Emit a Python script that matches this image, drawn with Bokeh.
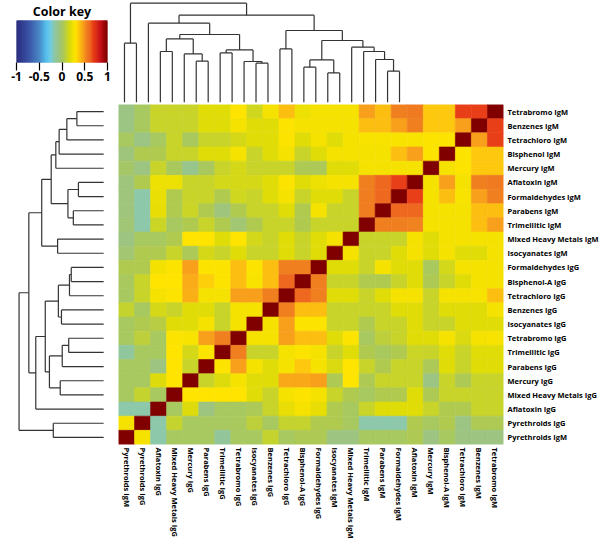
import numpy as np
from bokeh.plotting import figure
from bokeh.models import ColumnDataSource, LinearColorMapper, Range1d, FixedTicker, FactorRange
from bokeh.layouts import row, column
from bokeh.transform import transform
from bokeh.embed import file_html
from bokeh.resources import INLINE

FONT = "Open Sans"

# ---------------- data ----------------
col_labels = ["Pyrethroids IgM", "Pyrethroids IgG", "Aflatoxin IgG", "Mixed Heavy Metals IgG",
              "Mercury IgG", "Parabens IgG", "Trimellitic IgG", "Tetrabromo IgG", "Isocyanates IgG",
              "Benzenes IgG", "Tetrachloro IgG", "Bisphenol-A IgG", "Formaldehydes IgG",
              "Isocyanates IgM", "Mixed Heavy Metals IgM", "Trimellitic IgM", "Parabens IgM",
              "Formaldehydes IgM", "Aflatoxin IgM", "Mercury IgM", "Bisphenol-A IgM",
              "Tetrachloro IgM", "Benzenes IgM", "Tetrabromo IgM"]

# rows listed top to bottom
row_labels = ["Tetrabromo IgM", "Benzenes IgM", "Tetrachloro IgM", "Bisphenol IgM", "Mercury IgM",
              "Aflatoxin IgM", "Formaldehydes IgM", "Parabens IgM", "Trimellitic IgM",
              "Mixed Heavy Metals IgM", "Isocyanates IgM", "Formaldehydes IgG", "Bisphenol-A IgG",
              "Tetrachloro IgG", "Benzenes IgG", "Isocyanates IgG", "Tetrabromo IgG",
              "Trimellitic IgG", "Parabens IgG", "Mercury IgG", "Mixed Heavy Metals IgG",
              "Aflatoxin IgG", "Pyrethroids IgG", "Pyrethroids IgM"]

# correlation values, one list per row (top to bottom), values in column order
row_tetrabromo_igm = [-0.06, 0.02, 0.13, 0.13, 0.13, 0.20, 0.20, 0.31, 0.15, 0.26, 0.40, 0.24, 0.26, 0.26, 0.26, 0.48, 0.40, 0.55, 0.57, 0.38, 0.38, 0.70, 0.70, 1.0]
row_benzenes_igm = [-0.06, 0.03, 0.13, 0.13, 0.13, 0.20, 0.20, 0.26, 0.20, 0.20, 0.30, 0.26, 0.26, 0.26, 0.26, 0.40, 0.40, 0.48, 0.55, 0.38, 0.38, 0.48, 1.0, 0.70]
row_tetrachloro_igm = [0.02, -0.06, 0.02, 0.13, 0.03, 0.13, 0.13, 0.17, 0.20, 0.20, 0.29, 0.20, 0.26, 0.20, 0.26, 0.28, 0.28, 0.28, 0.28, 0.29, 0.29, 1.0, 0.48, 0.70]
row_bisphenol_igm = [-0.04, 0.06, 0.06, 0.13, 0.13, 0.20, 0.20, 0.26, 0.13, 0.20, 0.26, 0.13, 0.20, 0.26, 0.26, 0.26, 0.26, 0.40, 0.48, 0.29, 1.0, 0.29, 0.38, 0.38]
row_mercury_igm = [0.00, -0.05, 0.13, 0.03, -0.08, 0.03, 0.13, 0.17, 0.13, 0.13, 0.13, 0.05, 0.04, 0.20, 0.20, 0.26, 0.26, 0.26, 0.26, 1.0, 0.27, 0.29, 0.38, 0.38]
row_aflatoxin_igm = [-0.04, 0.06, 0.24, 0.24, 0.13, 0.13, 0.16, 0.17, 0.17, 0.20, 0.29, 0.20, 0.24, 0.26, 0.26, 0.55, 0.62, 0.70, 1.0, 0.26, 0.48, 0.26, 0.55, 0.57]
row_formaldehydes_igm = [-0.04, -0.16, 0.23, 0.06, 0.13, 0.13, 0.06, 0.15, 0.13, 0.20, 0.26, 0.13, 0.20, 0.20, 0.13, 0.56, 0.62, 1.0, 0.70, 0.26, 0.40, 0.28, 0.48, 0.55]
row_parabens_igm = [-0.04, -0.16, 0.22, 0.06, 0.14, 0.06, -0.04, 0.06, 0.13, 0.13, 0.20, 0.06, 0.26, 0.13, 0.13, 0.56, 1.0, 0.62, 0.62, 0.26, 0.26, 0.26, 0.40, 0.40]
row_trimellitic_igm = [-0.03, -0.16, 0.14, 0.02, 0.06, 0.13, 0.06, -0.02, 0.06, 0.13, 0.13, 0.06, 0.13, 0.13, 0.13, 1.0, 0.55, 0.55, 0.54, 0.26, 0.26, 0.26, 0.40, 0.48]
row_mixed_metals_igm = [-0.05, 0.02, 0.02, 0.06, 0.31, 0.31, 0.20, 0.31, 0.16, 0.13, 0.20, 0.13, 0.20, 0.26, 1.0, 0.13, 0.13, 0.13, 0.26, 0.20, 0.26, 0.26, 0.26, 0.26]
row_isocyanates_igm = [-0.02, 0.06, 0.06, 0.13, 0.04, 0.17, 0.13, 0.20, 0.13, 0.13, 0.20, 0.13, 0.20, 1.0, 0.26, 0.13, 0.13, 0.20, 0.26, 0.20, 0.26, 0.20, 0.20, 0.26]
row_formaldehydes_igg = [0.06, 0.06, 0.25, 0.29, 0.48, 0.30, 0.30, 0.40, 0.30, 0.40, 0.55, 0.55, 1.0, 0.20, 0.20, 0.13, 0.26, 0.20, 0.20, 0.03, 0.16, 0.26, 0.26, 0.26]
row_bisphenol_a_igg = [0.03, 0.13, 0.31, 0.31, 0.45, 0.36, 0.30, 0.40, 0.28, 0.40, 0.62, 1.0, 0.55, 0.13, 0.13, 0.06, 0.06, 0.13, 0.20, 0.05, 0.13, 0.20, 0.26, 0.26]
row_tetrachloro_igg = [0.02, 0.13, 0.27, 0.29, 0.44, 0.26, 0.26, 0.48, 0.48, 0.55, 1.0, 0.62, 0.55, 0.20, 0.20, 0.13, 0.20, 0.26, 0.26, 0.13, 0.26, 0.26, 0.28, 0.40]
row_benzenes_igg = [0.12, 0.02, 0.17, 0.13, 0.20, 0.20, 0.13, 0.26, 0.26, 1.0, 0.55, 0.40, 0.40, 0.13, 0.13, 0.13, 0.13, 0.20, 0.20, 0.13, 0.20, 0.20, 0.20, 0.26]
row_isocyanates_igg = [0.02, 0.06, 0.08, 0.20, 0.20, 0.26, 0.13, 0.26, 1.0, 0.26, 0.48, 0.30, 0.30, 0.13, 0.13, 0.06, 0.13, 0.13, 0.20, 0.13, 0.13, 0.20, 0.20, 0.20]
row_tetrabromo_igg = [0.02, 0.10, 0.02, 0.30, 0.28, 0.48, 0.55, 1.0, 0.26, 0.26, 0.48, 0.40, 0.40, 0.20, 0.30, 0.02, 0.10, 0.13, 0.20, 0.20, 0.26, 0.18, 0.26, 0.28]
row_trimellitic_igg = [-0.13, 0.02, 0.02, 0.31, 0.17, 0.29, 1.0, 0.55, 0.13, 0.13, 0.26, 0.30, 0.27, 0.13, 0.20, 0.06, 0.03, 0.06, 0.14, 0.13, 0.20, 0.13, 0.20, 0.20]
row_parabens_igg = [0.02, 0.02, -0.05, 0.31, 0.13, 1.0, 0.29, 0.48, 0.26, 0.20, 0.26, 0.38, 0.27, 0.18, 0.31, 0.13, 0.06, 0.13, 0.13, 0.04, 0.20, 0.13, 0.20, 0.20]
row_mercury_igg = [0.02, 0.02, 0.19, 0.31, 1.0, 0.13, 0.19, 0.26, 0.20, 0.20, 0.46, 0.46, 0.48, 0.05, 0.31, 0.05, 0.13, 0.13, 0.13, -0.06, 0.13, 0.05, 0.13, 0.13]
row_mixed_metals_igg = [0.02, 0.12, 0.02, 1.0, 0.31, 0.31, 0.31, 0.31, 0.20, 0.13, 0.27, 0.30, 0.27, 0.13, 0.06, 0.02, 0.06, 0.06, 0.20, 0.05, 0.13, 0.13, 0.13, 0.13]
row_aflatoxin_igg = [-0.16, -0.16, 1.0, 0.02, 0.19, -0.05, 0.02, 0.02, 0.04, 0.13, 0.22, 0.27, 0.22, 0.06, 0.02, 0.13, 0.20, 0.20, 0.20, 0.13, 0.06, 0.06, 0.13, 0.13]
row_pyrethroids_igg = [0.26, 1.0, -0.16, 0.12, 0.02, 0.02, 0.02, 0.03, 0.10, 0.02, 0.12, 0.12, 0.06, 0.06, 0.02, -0.16, -0.16, -0.16, 0.06, 0.02, 0.06, -0.06, 0.05, 0.05]
row_pyrethroids_igm = [1.0, 0.26, -0.16, 0.02, 0.02, 0.02, -0.12, 0.02, 0.02, 0.12, 0.02, 0.05, 0.05, -0.05, -0.05, 0.02, 0.02, 0.02, 0.05, -0.05, 0.02, -0.05, -0.05, -0.05]

corr_rows = [row_tetrabromo_igm, row_benzenes_igm, row_tetrachloro_igm, row_bisphenol_igm,
             row_mercury_igm, row_aflatoxin_igm, row_formaldehydes_igm, row_parabens_igm,
             row_trimellitic_igm, row_mixed_metals_igm, row_isocyanates_igm,
             row_formaldehydes_igg, row_bisphenol_a_igg, row_tetrachloro_igg, row_benzenes_igg,
             row_isocyanates_igg, row_tetrabromo_igg, row_trimellitic_igg, row_parabens_igg,
             row_mercury_igg, row_mixed_metals_igg, row_aflatoxin_igg, row_pyrethroids_igg,
             row_pyrethroids_igm]

# dendrogram merges: (child a, child b, height); leaves 0..23, new nodes numbered from 24
# column tree (leaf i = column i, left to right)
col_tree = [(22, 23, 31.0), (17, 18, 29.3), (15, 16, 35.0), (11, 12, 39.0), (6, 7, 41.0),
            (10, 27, 40.7), (26, 25, 42.3), (21, 24, 42.7), (5, 28, 48.3), (8, 9, 49.3),
            (3, 4, 50.7), (20, 31, 50.7), (33, 29, 52.3), (13, 14, 53.3), (19, 35, 55.0),
            (0, 1, 59.0), (30, 38, 61.7), (34, 32, 63.3), (41, 36, 67.7), (37, 40, 71.7),
            (2, 42, 79.0), (44, 43, 87.0), (39, 45, 99.0)]
# row tree (leaf j = row counted from the bottom)
row_tree = [(23, 22, 34.7), (24, 21, 47.7), (25, 20, 57.7), (26, 19, 62.0), (18, 17, 32.7),
            (16, 15, 39.3), (28, 29, 46.3), (27, 30, 68.0), (14, 13, 59.7), (31, 32, 80.3),
            (12, 11, 42.0), (34, 10, 44.3), (9, 8, 54.7), (35, 36, 58.7), (7, 6, 45.3),
            (38, 5, 53.7), (4, 3, 56.3), (39, 40, 70.3), (37, 41, 75.7), (42, 2, 88.0),
            (33, 43, 97.0), (1, 0, 65.3), (44, 45, 109.7)]

key_ticks = [-1, -0.5, 0, 0.5, 1]
key_tick_text = ["-1", "-0.5", "0", "0.5", "1"]

# ---------------- colour scale ----------------
anchors = [(-1.0, "#2B2F7F"), (-0.75, "#3A50A2"), (-0.5, "#4A86C6"), (-0.35, "#55BDEB"),
           (-0.25, "#72CDE6"), (-0.16, "#8CC8A8"), (-0.06, "#9CC484"), (0.02, "#A8C860"),
           (0.06, "#B0CA50"), (0.13, "#C8D42A"), (0.20, "#E0DC08"), (0.26, "#F4E200"),
           (0.31, "#FFE400"), (0.40, "#FCC010"), (0.48, "#F8A01B"), (0.55, "#F08020"),
           (0.62, "#EE6A20"), (0.70, "#E84018"), (0.85, "#C8141A"), (1.0, "#800000")]
a_v = [a[0] for a in anchors]
a_c = np.array([[int(h[i:i + 2], 16) for i in (1, 3, 5)] for _, h in anchors], dtype=float)
grid_v = np.linspace(-1, 1, 256)
palette = ["#%02x%02x%02x" % tuple(int(round(np.interp(v, a_v, a_c[:, k]))) for k in range(3))
           for v in grid_v]
mapper = LinearColorMapper(palette=palette, low=-1, high=1)

LINE = "#333333"
LEFT_W = 118   # width of the left column (colour key / row dendrogram)
TOP_H = 104    # height of the top row (colour key / column dendrogram)

# ---------------- heatmap ----------------
hx, hy, hv = [], [], []
for rl, vals in zip(row_labels, corr_rows):
    for cl, v in zip(col_labels, vals):
        hx.append(cl)
        hy.append(rl)
        hv.append(v)
hsrc = ColumnDataSource(dict(x=hx, y=hy, v=hv))

hm = figure(x_range=FactorRange(*col_labels), y_range=FactorRange(*row_labels[::-1]),
            frame_width=385, frame_height=340, output_backend="svg", toolbar_location=None,
            x_axis_location="below", y_axis_location="right", min_border=0)
hm.rect(x="x", y="y", width=1, height=1, source=hsrc,
        fill_color=transform("v", mapper), line_color=transform("v", mapper), line_width=0.6)
for ax in (hm.xaxis[0], hm.yaxis[0]):
    ax.axis_line_color = None
    ax.major_tick_line_color = None
    ax.minor_tick_line_color = None
    ax.major_tick_out = 0
    ax.major_tick_in = 0
    ax.minor_tick_out = 0
    ax.minor_tick_in = 0
    ax.major_label_text_font = FONT
    ax.major_label_text_font_style = "bold"
    ax.major_label_text_font_size = "7.5px"
    ax.major_label_text_color = "black"
hm.yaxis.major_label_standoff = 4
hm.xaxis.major_label_standoff = 3
hm.xaxis.major_label_orientation = "vertical"
hm.grid.visible = False
hm.outline_line_color = None


def dendro_segments(tree, n):
    pos = {i: i + 0.5 for i in range(n)}
    hgt = {i: 0.0 for i in range(n)}
    p0, h0, p1, h1 = [], [], [], []
    for k, (a, b, h) in enumerate(tree):
        for c in (a, b):
            p0.append(pos[c]); h0.append(hgt[c]); p1.append(pos[c]); h1.append(h)
        p0.append(pos[a]); h0.append(h); p1.append(pos[b]); h1.append(h)
        pos[n + k] = (pos[a] + pos[b]) / 2.0
        hgt[n + k] = h
    return p0, h0, p1, h1


# ---------------- top dendrogram ----------------
cp0, ch0, cp1, ch1 = dendro_segments(col_tree, len(col_labels))
td = figure(width=385, height=TOP_H, x_range=Range1d(0, 24), y_range=Range1d(-2.3, 101.7),
            output_backend="svg", toolbar_location=None, min_border=0,
            x_axis_location=None, y_axis_location=None)
td.segment(x0=cp0, y0=ch0, x1=cp1, y1=ch1, line_color=LINE, line_width=1.2)
td.grid.visible = False
td.outline_line_color = None

# ---------------- row dendrogram ----------------
rp0, rh0, rp1, rh1 = dendro_segments(row_tree, len(row_labels))
rd = figure(width=LEFT_W, height=340, x_range=Range1d(113, -5), y_range=Range1d(0, 24),
            output_backend="svg", toolbar_location=None, min_border=0,
            x_axis_location=None, y_axis_location=None)
rd.segment(x0=rh0, y0=rp0, x1=rh1, y1=rp1, line_color=LINE, line_width=1.2)
rd.grid.visible = False
rd.outline_line_color = None

# ---------------- colour key ----------------
kp = figure(width=LEFT_W, height=TOP_H, x_range=Range1d(-1, 1), y_range=Range1d(0, 1),
            output_backend="svg", toolbar_location=None, title="Color key",
            min_border_left=16, min_border_right=11, min_border_top=16, min_border_bottom=42,
            x_axis_location="below", y_axis_location=None)
edges = np.linspace(-1, 1, 257)
kp.quad(left=edges[:-1], right=edges[1:], bottom=0, top=1,
        fill_color=palette, line_color=palette, line_width=0.5)
kp.xaxis.ticker = FixedTicker(ticks=key_ticks)
kp.xaxis.major_label_overrides = {t: s for t, s in zip(key_ticks, key_tick_text)}
kp.xaxis.axis_line_color = None
kp.xaxis.major_tick_line_color = "black"
kp.xaxis.major_tick_line_width = 1.2
kp.xaxis.major_tick_out = 8
kp.xaxis.major_tick_in = 0
kp.xaxis.minor_tick_line_color = None
kp.xaxis.major_label_text_font = FONT
kp.xaxis.major_label_text_font_style = "bold"
kp.xaxis.major_label_text_font_size = "12px"
kp.xaxis.major_label_text_color = "black"
kp.xaxis.major_label_standoff = 1
kp.title.text_font = FONT
kp.title.text_font_style = "bold"
kp.title.text_font_size = "12.5px"
kp.title.text_color = "black"
kp.title.align = "center"
kp.title.standoff = 1
kp.grid.visible = False
kp.outline_line_color = None

layout = row(column(kp, rd), column(td, hm))
open("out.html", "w").write(file_html(layout, INLINE))
